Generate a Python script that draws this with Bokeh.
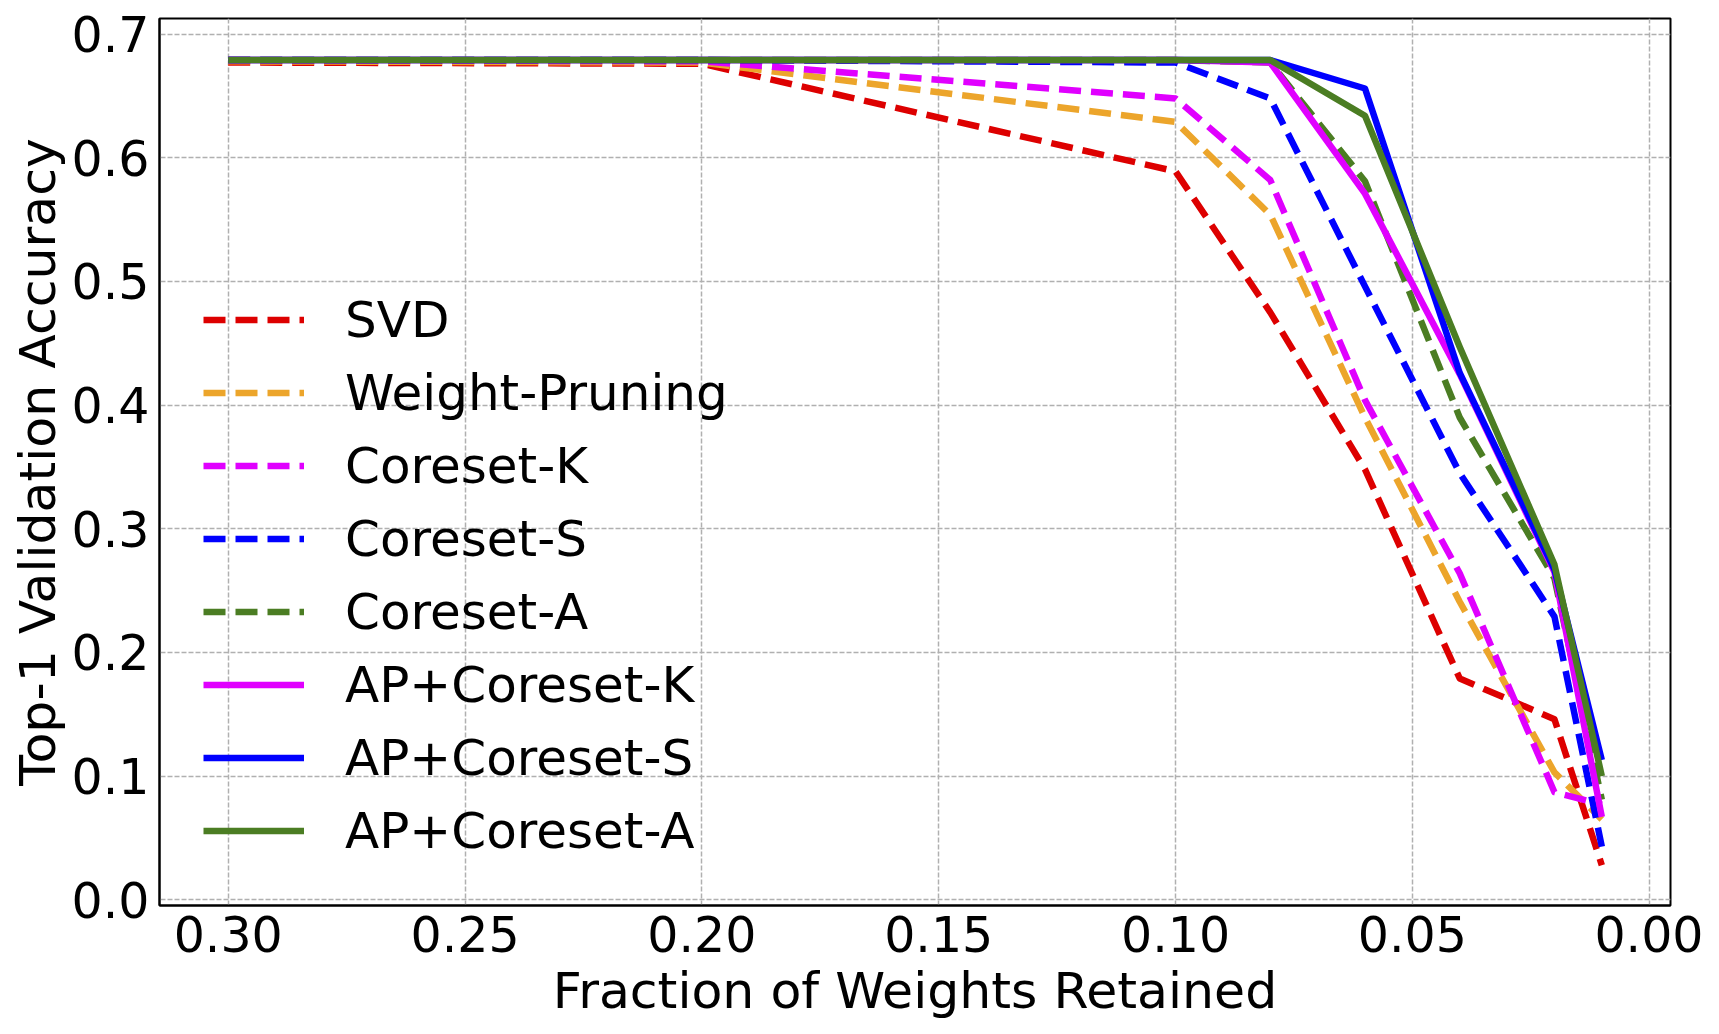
from bokeh.plotting import figure
from bokeh.models import Range1d, FixedTicker, PrintfTickFormatter
from bokeh.embed import file_html
from bokeh.resources import INLINE

# ---- data ----
fraction = [0.30, 0.20, 0.10, 0.08, 0.06, 0.04, 0.02, 0.01]

svd            = [0.677, 0.676, 0.589, 0.475, 0.348, 0.179, 0.146, 0.028]
weight_pruning = [0.678, 0.677, 0.629, 0.554, 0.390, 0.241, 0.103, 0.065]
coreset_k      = [0.679, 0.678, 0.648, 0.582, 0.404, 0.264, 0.087, 0.077]
coreset_s      = [0.679, 0.679, 0.677, 0.648, 0.496, 0.345, 0.229, 0.043]
coreset_a      = [0.679, 0.679, 0.679, 0.677, 0.581, 0.390, 0.260, 0.081]
ap_coreset_k   = [0.679, 0.679, 0.679, 0.677, 0.571, 0.425, 0.265, 0.067]
ap_coreset_s   = [0.679, 0.679, 0.679, 0.679, 0.656, 0.426, 0.267, 0.113]
ap_coreset_a   = [0.679, 0.679, 0.679, 0.679, 0.634, 0.447, 0.271, 0.100]

x_ticks = [0.30, 0.25, 0.20, 0.15, 0.10, 0.05, 0.00]
y_ticks = [0.0, 0.1, 0.2, 0.3, 0.4, 0.5, 0.6, 0.7]

series = [
    ("SVD", svd, "#dd0000", "dashed"),
    ("Weight-Pruning", weight_pruning, "#eca52b", "dashed"),
    ("Coreset-K", coreset_k, "#e000ff", "dashed"),
    ("Coreset-S", coreset_s, "#0000ff", "dashed"),
    ("Coreset-A", coreset_a, "#4b7d23", "dashed"),
    ("AP+Coreset-K", ap_coreset_k, "#e000ff", "solid"),
    ("AP+Coreset-S", ap_coreset_s, "#0000ff", "solid"),
    ("AP+Coreset-A", ap_coreset_a, "#4b7d23", "solid"),
]

FONT = "DejaVu Sans"
TICK_FS = "49px"
LABEL_FS = "50.5px"
LEGEND_FS = "50px"

p = figure(width=1703, height=1022, output_backend="svg", toolbar_location=None,
           x_range=Range1d(0.3145, -0.0045), y_range=Range1d(-0.0046, 0.7126),
           min_border_left=159, min_border_right=33, min_border_top=18, min_border_bottom=116)

for name, ys, color, style in series:
    dash = "22 10" if style == "dashed" else "solid"
    p.line(fraction, ys, line_color=color, line_width=6.5, line_dash=dash,
           line_join="round", line_cap="butt", legend_label=name)

# axes
p.xaxis.ticker = FixedTicker(ticks=x_ticks)
p.yaxis.ticker = FixedTicker(ticks=y_ticks)
p.xaxis.formatter = PrintfTickFormatter(format="%.2f")
p.yaxis.formatter = PrintfTickFormatter(format="%.1f")
p.xaxis.axis_label = "Fraction of Weights Retained"
p.yaxis.axis_label = "Top-1 Validation Accuracy"
for ax in (p.xaxis[0], p.yaxis[0]):
    ax.major_label_text_font = FONT
    ax.major_label_text_font_size = TICK_FS
    ax.major_label_text_color = "black"
    ax.axis_label_text_font = FONT
    ax.axis_label_text_font_size = LABEL_FS
    ax.axis_label_text_font_style = "normal"
    ax.axis_label_text_color = "black"
    ax.major_tick_in = 0
    ax.major_tick_out = 0
    ax.minor_tick_in = 0
    ax.minor_tick_out = 0
    ax.axis_line_color = "black"
    ax.axis_line_width = 2
p.xaxis.major_label_standoff = 10
p.yaxis.major_label_standoff = 10
p.xaxis.axis_label_standoff = 6
p.yaxis.axis_label_standoff = 2

# grid
for g in (p.xgrid[0], p.ygrid[0]):
    g.grid_line_color = "#b0b0b0"
    g.grid_line_width = 1.5
    g.grid_line_dash = "5 2"

p.outline_line_color = "black"
p.outline_line_width = 2
p.background_fill_color = "white"
p.border_fill_color = "white"

# legend
lg = p.legend[0]
lg.location = (44, 38)
lg.label_text_font = FONT
lg.label_text_font_size = LEGEND_FS
lg.label_text_color = "black"
lg.glyph_width = 101
lg.glyph_height = 73
lg.label_height = 73
lg.label_standoff = 41
lg.spacing = 0
lg.padding = 0
lg.margin = 0
lg.background_fill_alpha = 0
lg.border_line_alpha = 0

open("out.html", "w").write(file_html(p, INLINE))
